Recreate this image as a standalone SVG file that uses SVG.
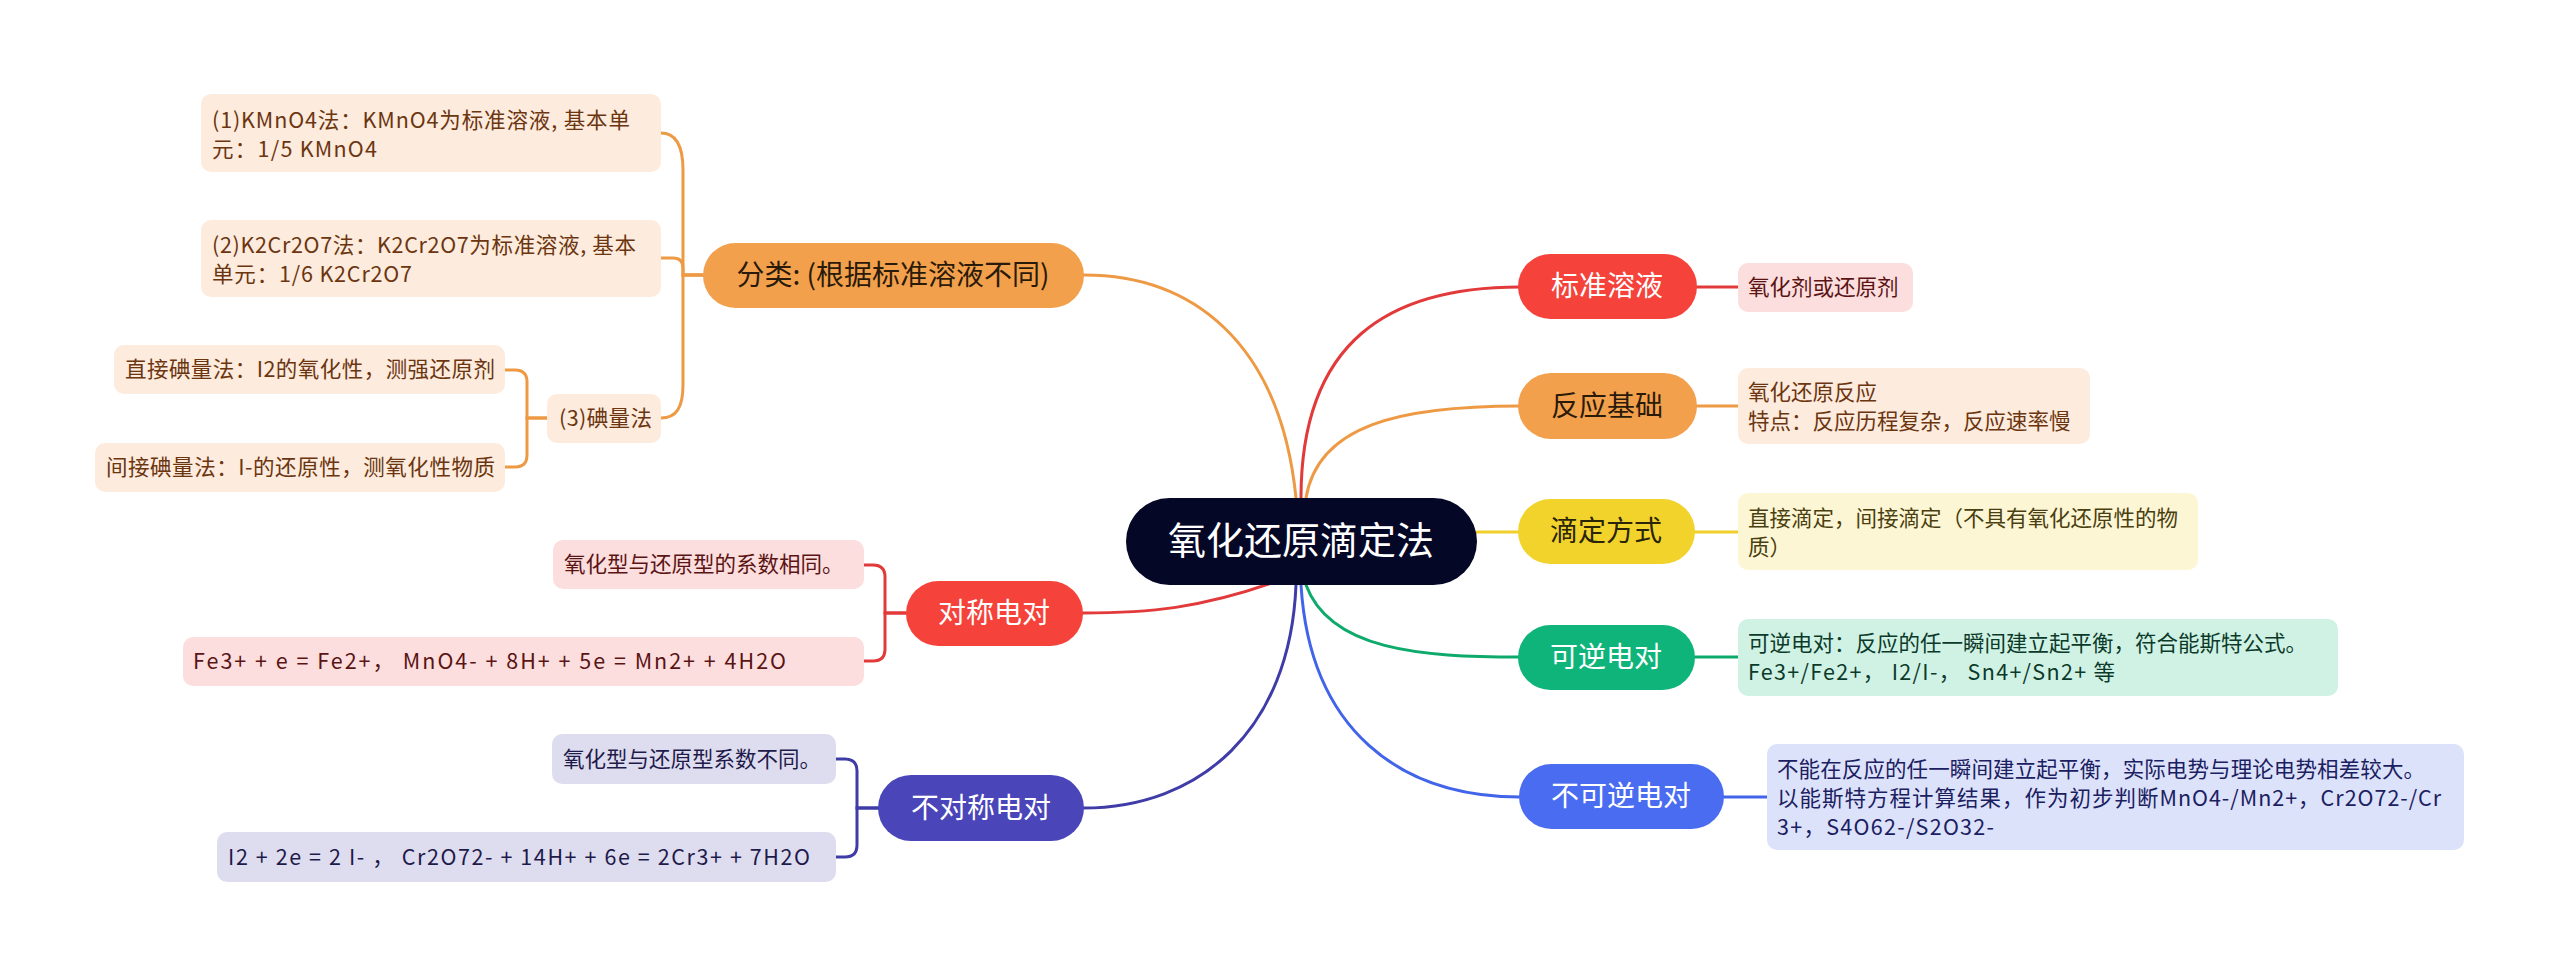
<svg xmlns="http://www.w3.org/2000/svg" width="2560" height="976" viewBox="0 0 2560 976">
<style>
text{font-family:"Noto Sans CJK SC","Noto Sans",sans-serif;}
.c{fill:none;stroke-width:3;stroke-linecap:round;}
.main{font-size:28px;text-anchor:middle;}
.det{font-size:21.5px;}
.w{fill:#ffffff;}
</style>
<rect width="2560" height="976" fill="#ffffff"/>
<g id="connectors">
<path class="c" stroke="#E2393A" d="M1301 498 C1301 340 1390 287 1520 287"/>
<path class="c" stroke="#EE9A45" d="M1306 498 C1318 425 1400 406 1520 406"/>
<path class="c" stroke="#F0CF2A" d="M1477 532 L1520 532"/>
<path class="c" stroke="#0DAA6C" d="M1306 585 C1330 650 1420 657 1520 657"/>
<path class="c" stroke="#4264E8" d="M1301 585 C1310 730 1400 797 1520 797"/>
<path class="c" stroke="#EE9A45" d="M1296 498 C1280 340 1190 275 1084 275"/>
<path class="c" stroke="#E2393A" d="M1272 583 C1200 608 1150 613 1083 613"/>
<path class="c" stroke="#3F3CA8" d="M1296 585 C1290 730 1200 808 1083 808"/>
<path class="c" stroke="#E2393A" d="M1697 287 H1738"/>
<path class="c" stroke="#EE9A45" d="M1697 406 H1738"/>
<path class="c" stroke="#F0CF2A" d="M1695 532 H1738"/>
<path class="c" stroke="#0DAA6C" d="M1695 657 H1738"/>
<path class="c" stroke="#4264E8" d="M1722 797 H1767"/>
<path class="c" stroke="#EE9A45" d="M703 275 H683 V170 C683 145 676 133 661 133"/>
<path class="c" stroke="#EE9A45" d="M703 275 H683 V268 Q683 258 673 258 H661"/>
<path class="c" stroke="#EE9A45" d="M703 275 H683 V385 C683 408 676 418 661 418"/>
<path class="c" stroke="#EE9A45" d="M547 418 H527 V382 Q527 370 515 370 H505"/>
<path class="c" stroke="#EE9A45" d="M547 418 H527 V455 Q527 467 515 467 H505"/>
<path class="c" stroke="#E2393A" d="M906 613 H885 V577 Q885 565 873 565 H864"/>
<path class="c" stroke="#E2393A" d="M906 613 H885 V649 Q885 661 873 661 H864"/>
<path class="c" stroke="#3F3CA8" d="M878 808 H857 V771 Q857 759 845 759 H836"/>
<path class="c" stroke="#3F3CA8" d="M878 808 H857 V845 Q857 857 845 857 H836"/>
</g>
<g id="root">
<rect x="1126" y="498" width="351" height="87" rx="43.5" fill="#050727"/>
<text x="1301" y="554" font-size="38" text-anchor="middle" class="w">氧化还原滴定法</text>
</g>
<g id="n-biaozhun">
<rect x="1518" y="254" width="179" height="65" rx="32.5" fill="#F5423B"/>
<text x="1607" y="296" class="main w">标准溶液</text>
</g>
<g id="d-biaozhun">
<rect x="1738" y="263" width="175" height="49" rx="10" fill="#FDDEDE"/>
<text x="1748" y="295" class="det" fill="#5A1414">氧化剂或还原剂</text>
</g>
<g id="n-fanying">
<rect x="1518" y="373" width="179" height="66" rx="33" fill="#F3A04C"/>
<text x="1607" y="416" class="main" fill="#2A1A0A">反应基础</text>
</g>
<g id="d-fanying">
<rect x="1738" y="368" width="352" height="76" rx="10" fill="#FDEBDD"/>
<text x="1748" y="400" class="det" fill="#6B3510">氧化还原反应</text>
<text x="1748" y="429" class="det" fill="#6B3510">特点：反应历程复杂，反应速率慢</text>
</g>
<g id="n-diding">
<rect x="1518" y="499" width="177" height="65" rx="32.5" fill="#F2D32B"/>
<text x="1606" y="541" class="main" fill="#2A2408">滴定方式</text>
</g>
<g id="d-diding">
<rect x="1738" y="493" width="460" height="77" rx="10" fill="#FDF6D4"/>
<text x="1748" y="526" class="det" fill="#4A3F10">直接滴定，间接滴定（不具有氧化还原性的物</text>
<text x="1748" y="555" class="det" fill="#4A3F10">质）</text>
</g>
<g id="n-keni">
<rect x="1518" y="625" width="177" height="65" rx="32.5" fill="#0EB47A"/>
<text x="1606" y="667" class="main w">可逆电对</text>
</g>
<g id="d-keni">
<rect x="1738" y="619" width="600" height="77" rx="10" fill="#D0F2E5"/>
<text x="1748" y="651" class="det" fill="#0C3A2A">可逆电对：反应的任一瞬间建立起平衡，符合能斯特公式。</text>
<text x="1748" y="680" class="det" fill="#0C3A2A" textLength="367">Fe3+/Fe2+， I2/I-， Sn4+/Sn2+ 等</text>
</g>
<g id="n-bukeni">
<rect x="1519" y="764" width="205" height="65" rx="32.5" fill="#4A6CF0"/>
<text x="1621" y="806" class="main w">不可逆电对</text>
</g>
<g id="d-bukeni">
<rect x="1767" y="744" width="697" height="106" rx="10" fill="#DDE2FB"/>
<text x="1777" y="777" class="det" fill="#1A2060" textLength="648">不能在反应的任一瞬间建立起平衡，实际电势与理论电势相差较大。</text>
<text x="1777" y="806" class="det" fill="#1A2060" textLength="664">以能斯特方程计算结果，作为初步判断MnO4-/Mn2+，Cr2O72-/Cr</text>
<text x="1777" y="835" class="det" fill="#1A2060" textLength="217">3+，S4O62-/S2O32-</text>
</g>
<g id="n-fenlei">
<rect x="703" y="243" width="381" height="65" rx="32.5" fill="#F3A04C"/>
<text x="893" y="285" class="main" fill="#2A1A0A">分类: (根据标准溶液不同)</text>
</g>
<g id="d-kmno4">
<rect x="201" y="94" width="460" height="78" rx="10" fill="#FDEBDD"/>
<text x="212" y="128" class="det" fill="#6B3510" textLength="418">(1)KMnO4法：KMnO4为标准溶液, 基本单</text>
<text x="212" y="157" class="det" fill="#6B3510" textLength="165">元：1/5 KMnO4</text>
</g>
<g id="d-k2cr2o7">
<rect x="201" y="220" width="460" height="77" rx="10" fill="#FDEBDD"/>
<text x="212" y="253" class="det" fill="#6B3510" textLength="424">(2)K2Cr2O7法：K2Cr2O7为标准溶液, 基本</text>
<text x="212" y="282" class="det" fill="#6B3510" textLength="200">单元：1/6 K2Cr2O7</text>
</g>
<g id="d-dianliang">
<rect x="547" y="394" width="114" height="49" rx="10" fill="#FDEBDD"/>
<text x="559" y="426" class="det" fill="#6B3510" textLength="93">(3)碘量法</text>
</g>
<g id="d-zhijie">
<rect x="114" y="345" width="391" height="49" rx="10" fill="#FDEBDD"/>
<text x="125" y="377" class="det" fill="#6B3510" textLength="370">直接碘量法：I2的氧化性，测强还原剂</text>
</g>
<g id="d-jianjie">
<rect x="95" y="443" width="410" height="49" rx="10" fill="#FDEBDD"/>
<text x="106" y="475" class="det" fill="#6B3510" textLength="389">间接碘量法：I-的还原性，测氧化性物质</text>
</g>
<g id="n-duichen">
<rect x="906" y="581" width="177" height="65" rx="32.5" fill="#F5423B"/>
<text x="994" y="623" class="main w">对称电对</text>
</g>
<g id="d-duichen1">
<rect x="553" y="540" width="311" height="49" rx="10" fill="#FDDEDE"/>
<text x="564" y="572" class="det" fill="#5A1414">氧化型与还原型的系数相同。</text>
</g>
<g id="d-duichen2">
<rect x="183" y="637" width="681" height="49" rx="10" fill="#FDDEDE"/>
<text x="193" y="669" class="det" fill="#5A1414" textLength="593">Fe3+ + e = Fe2+， MnO4- + 8H+ + 5e = Mn2+ + 4H2O</text>
</g>
<g id="n-buduichen">
<rect x="878" y="775" width="206" height="66" rx="33" fill="#4A46B9"/>
<text x="981" y="818" class="main w">不对称电对</text>
</g>
<g id="d-buduichen1">
<rect x="552" y="734" width="284" height="50" rx="10" fill="#DEDDF0"/>
<text x="563" y="767" class="det" fill="#1E1A4A">氧化型与还原型系数不同。</text>
</g>
<g id="d-buduichen2">
<rect x="217" y="832" width="619" height="50" rx="10" fill="#DEDDF0"/>
<text x="228" y="865" class="det" fill="#1E1A4A" textLength="582">I2 + 2e = 2 I- ， Cr2O72- + 14H+ + 6e = 2Cr3+ + 7H2O</text>
</g>
</svg>
